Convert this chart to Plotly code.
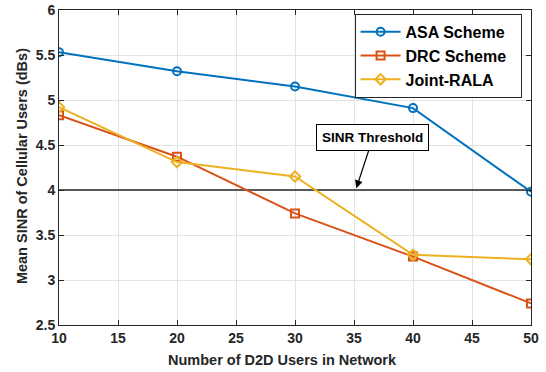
import plotly.graph_objects as go

# Number of D2D users
d2d_users = [10, 20, 30, 40, 50]

# Mean SINR of cellular users (dB) per scheme
asa_sinr = [5.53, 5.32, 5.15, 4.91, 3.98]
drc_sinr = [4.83, 4.37, 3.74, 3.26, 2.74]
rala_sinr = [4.92, 4.31, 4.15, 3.28, 3.23]

sinr_threshold = 4.0

series_names = ["ASA Scheme", "DRC Scheme", "Joint-RALA"]
series_colors = ["#0072BD", "#D95319", "#EDB120"]
series_symbols = ["circle-open", "square-open", "diamond-open"]

x_title = "Number of D2D Users in Network"
y_title = "Mean SINR of Cellular Users (dBs)"

FONT = "Liberation Sans, Arial, sans-serif"
INK = "#262626"

fig = go.Figure()

fig.add_trace(go.Scatter(
    x=[d2d_users[0], d2d_users[-1]], y=[sinr_threshold, sinr_threshold],
    mode="lines", line=dict(color=INK, width=1.5),
    showlegend=False, hoverinfo="skip"))

for name, vals, color, sym in zip(series_names, [asa_sinr, drc_sinr, rala_sinr],
                                  series_colors, series_symbols):
    fig.add_trace(go.Scatter(
        x=d2d_users, y=vals, name=f"<b>{name}</b>&nbsp;&nbsp;", mode="lines+markers",
        line=dict(color=color, width=2),
        marker=dict(symbol=sym, size=8, color=color, line=dict(width=2, color=color))))

fig.add_annotation(
    x=35.2, y=sinr_threshold + 0.02, xref="x", yref="y",
    ax=36.6, ay=4.58, axref="x", ayref="y",
    text="<b>SINR Threshold</b>", showarrow=True,
    arrowhead=2, arrowsize=1.3, arrowwidth=1.2, arrowcolor="black",
    bordercolor="black", borderwidth=1, borderpad=5, bgcolor="white",
    font=dict(size=13.5, color="black", family=FONT))

# Axis titles placed as paper-anchored text
fig.add_annotation(
    x=0.473, y=-0.112, xref="paper", yref="paper", xanchor="center", yanchor="middle",
    text=f"<b>{x_title}</b>", showarrow=False,
    font=dict(size=14.5, color=INK, family=FONT))
fig.add_annotation(
    x=-0.078, y=0.505, xref="paper", yref="paper", xanchor="center", yanchor="middle",
    text=f"<b>{y_title}</b>", showarrow=False, textangle=-90,
    font=dict(size=14.5, color=INK, family=FONT))

axis_common = dict(
    showgrid=True, gridcolor="#E3E3E3", gridwidth=1,
    showline=True, linecolor=INK, linewidth=1, mirror="ticks",
    ticks="inside", ticklen=5, tickcolor=INK,
    zeroline=False, automargin=False,
    tickfont=dict(size=14, color=INK, family=FONT),
    tickprefix="<b>", ticksuffix="</b>",
)

fig.update_xaxes(range=[10, 50], dtick=5, **axis_common)
fig.update_yaxes(range=[2.5, 6], dtick=0.5, **axis_common)

fig.update_layout(
    width=546, height=372,
    margin=dict(l=59, r=15, t=10, b=47),
    paper_bgcolor="white", plot_bgcolor="white",
    legend=dict(
        x=0.98, y=0.988, xanchor="right", yanchor="top",
        bgcolor="white", bordercolor=INK, borderwidth=1,
        font=dict(size=16, color="black", family=FONT),
        itemwidth=40, tracegroupgap=0),
)

fig.write_html("out.html")
